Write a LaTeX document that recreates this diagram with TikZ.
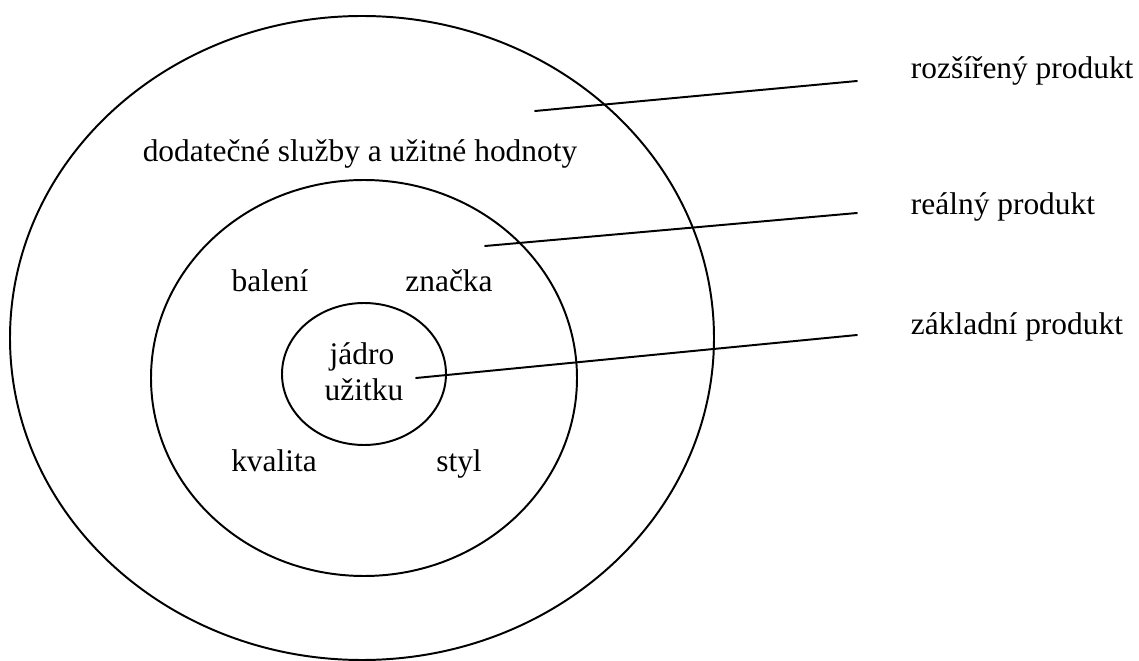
\documentclass[tikz,border=0pt]{standalone}
\usepackage{fontspec}
\setmainfont{Liberation Serif}
\begin{document}
\begin{tikzpicture}[x=0.382pt, y=-0.382pt, font=\fontsize{12}{14}\selectfont, line join=round, line cap=round, line width=0.75pt]
    \tikzset{lbl/.style={inner sep=0pt, anchor=base}}
    \useasboundingbox (0,0) rectangle (1139,661);
    % the three rings
    \draw (362,338) ellipse [x radius=352, y radius=322];
    \draw (364,378) ellipse [x radius=213, y radius=198];
    \draw (364,374) ellipse [x radius=82, y radius=71];
    % texts in the rings
    \node[lbl] (sluzby) at (360,162) {dodatečné služby a užitné hodnoty};
    \node[lbl] (baleni) at (270,292) {balení};
    \node[lbl] (znacka) at (449,292) {značka};
    \node[lbl] (jadro) at (362,365) {jádro};
    \node[lbl] (uzitek) at (364,400) {užitku};
    \node[lbl] (kvalita) at (274,471) {kvalita};
    \node[lbl] (styl) at (459,471) {styl};
    % names of the levels
    \node[lbl, anchor=base west] (rozsireny) at (910,79) {rozšířený produkt};
    \node[lbl, anchor=base west] (realny) at (910,215) {reálný produkt};
    \node[lbl, anchor=base west] (zakladni) at (910,335) {základní produkt};
    \coordinate (p1) at (535,111); \coordinate (q1) at (857,81);
    \coordinate (p2) at (485,246); \coordinate (q2) at (857,213);
    \coordinate (p3) at (416,378); \coordinate (q3) at (857,335);
    \draw (p1) -- (q1);
    \draw (p2) -- (q2);
    \draw (p3) -- (q3);
\end{tikzpicture}
\end{document}
